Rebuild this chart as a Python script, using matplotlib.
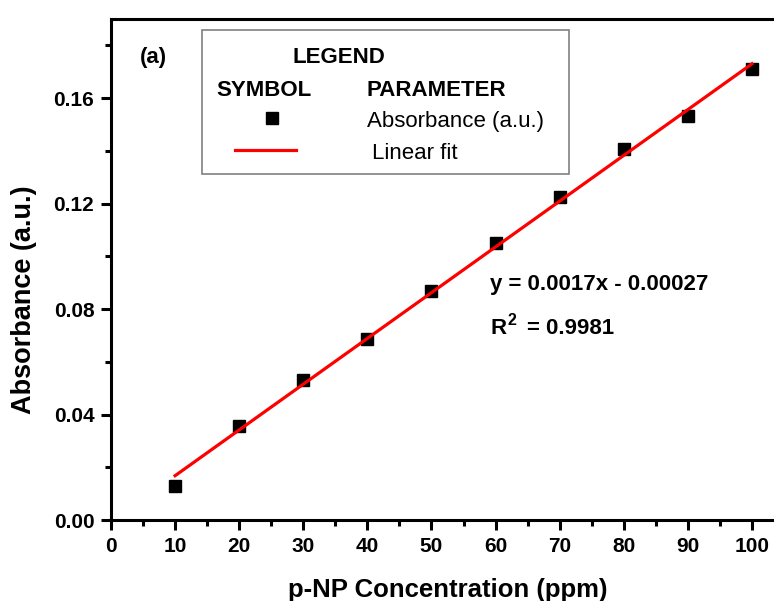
import matplotlib
matplotlib.use("Agg")
import matplotlib.pyplot as plt
from matplotlib.lines import Line2D
from matplotlib.patches import Rectangle
import numpy as np

# ---- data ----
conc = [10, 20, 30, 40, 50, 60, 70, 80, 90, 100]
absorbance = [0.0129, 0.0358, 0.0531, 0.0685, 0.0870, 0.1049, 0.1226, 0.1408, 0.1533, 0.1710]
fit_x = [10, 100]
fit_y = [0.0168, 0.1730]
x_ticks = [0, 10, 20, 30, 40, 50, 60, 70, 80, 90, 100]
y_ticks = [0.00, 0.04, 0.08, 0.12, 0.16]
y_tick_labels = ["0.00", "0.04", "0.08", "0.12", "0.16"]
eq_text = "y = 0.0017x - 0.00027"
r2_value_text = "= 0.9981"

plt.rcParams['font.family'] = ['Liberation Sans', 'DejaVu Sans']

W, H = 774, 601
fig = plt.figure(figsize=(W / 100, H / 100), dpi=100)
fig.patch.set_facecolor('white')

def fx(px):
    return px / W

def fy(py):
    return 1 - py / H

left, right, top, bottom = 111, 785, 19, 520
ax = fig.add_axes([fx(left), fy(bottom), (right - left) / W, (bottom - top) / H])
ax.set_xlim(0, (right - left) / 6.41)
ax.set_ylim(0, 0.19)

ax.plot(conc, absorbance, linestyle='none', marker='s', markersize=8.5,
        color='black', zorder=3)
ax.plot(fit_x, fit_y, color='#ff0000', linewidth=2.3, zorder=4)

for s in ['left', 'bottom', 'top']:
    ax.spines[s].set_linewidth(2.2)
ax.spines['right'].set_visible(False)

ax.set_xticks(x_ticks)
ax.set_xticks(np.arange(5, 105, 10), minor=True)
ax.set_yticks(y_ticks)
ax.set_yticklabels(y_tick_labels)
ax.set_yticks(np.arange(0.02, 0.19, 0.04), minor=True)
ax.tick_params(which='major', direction='out', length=7, width=2.2,
               labelsize=15, pad=5)
ax.tick_params(which='minor', direction='out', length=4, width=2.2)
for lab in ax.get_xticklabels() + ax.get_yticklabels():
    lab.set_fontweight('bold')

# axis labels
fig.text(fx(448), fy(597), "p-NP Concentration (ppm)", ha='center', va='baseline',
         fontsize=18.5, fontweight='bold')
fig.text(fx(24), fy(300), "Absorbance (a.u.)", ha='center', va='center',
         rotation=90, fontsize=19.5, fontweight='bold')

# panel label
fig.text(fx(140), fy(63), "(a)", ha='left', va='baseline', fontsize=16, fontweight='bold')

# legend box
fig.add_artist(Rectangle((fx(202), fy(174)), (569 - 202) / W, (174 - 30) / H,
                         transform=fig.transFigure, facecolor='white',
                         edgecolor='#808080', linewidth=1.2, zorder=5))
fig.text(fx(293), fy(63), "LEGEND", ha='left', va='baseline', fontsize=16,
         fontweight='bold', zorder=6)
fig.text(fx(216), fy(96), "SYMBOL", ha='left', va='baseline', fontsize=16,
         fontweight='bold', zorder=6)
fig.text(fx(367), fy(96), "PARAMETER", ha='left', va='baseline', fontsize=16,
         fontweight='bold', zorder=6)
fig.add_artist(Line2D([fx(272)], [fy(118)], marker='s', markersize=8.5,
                      color='black', linestyle='none', transform=fig.transFigure, zorder=6))
fig.text(fx(367), fy(127), "Absorbance (a.u.)", ha='left', va='baseline', fontsize=16,
         zorder=6)
fig.add_artist(Line2D([fx(235), fx(296)], [fy(150), fy(150)], color='#ff0000',
                      linewidth=2.3, transform=fig.transFigure, zorder=6))
fig.text(fx(372), fy(159), "Linear fit", ha='left', va='baseline', fontsize=16,
         zorder=6)

# equation
fig.text(fx(490), fy(290), eq_text, ha='left', va='baseline', fontsize=16, fontweight='bold')
fig.text(fx(490), fy(334), "R", ha='left', va='baseline', fontsize=16, fontweight='bold')
fig.text(fx(508), fy(325), "2", ha='left', va='baseline', fontsize=11.5, fontweight='bold')
fig.text(fx(527), fy(334), r2_value_text, ha='left', va='baseline', fontsize=16,
         fontweight='bold')

fig.savefig("out.png", dpi=100, facecolor='white')
